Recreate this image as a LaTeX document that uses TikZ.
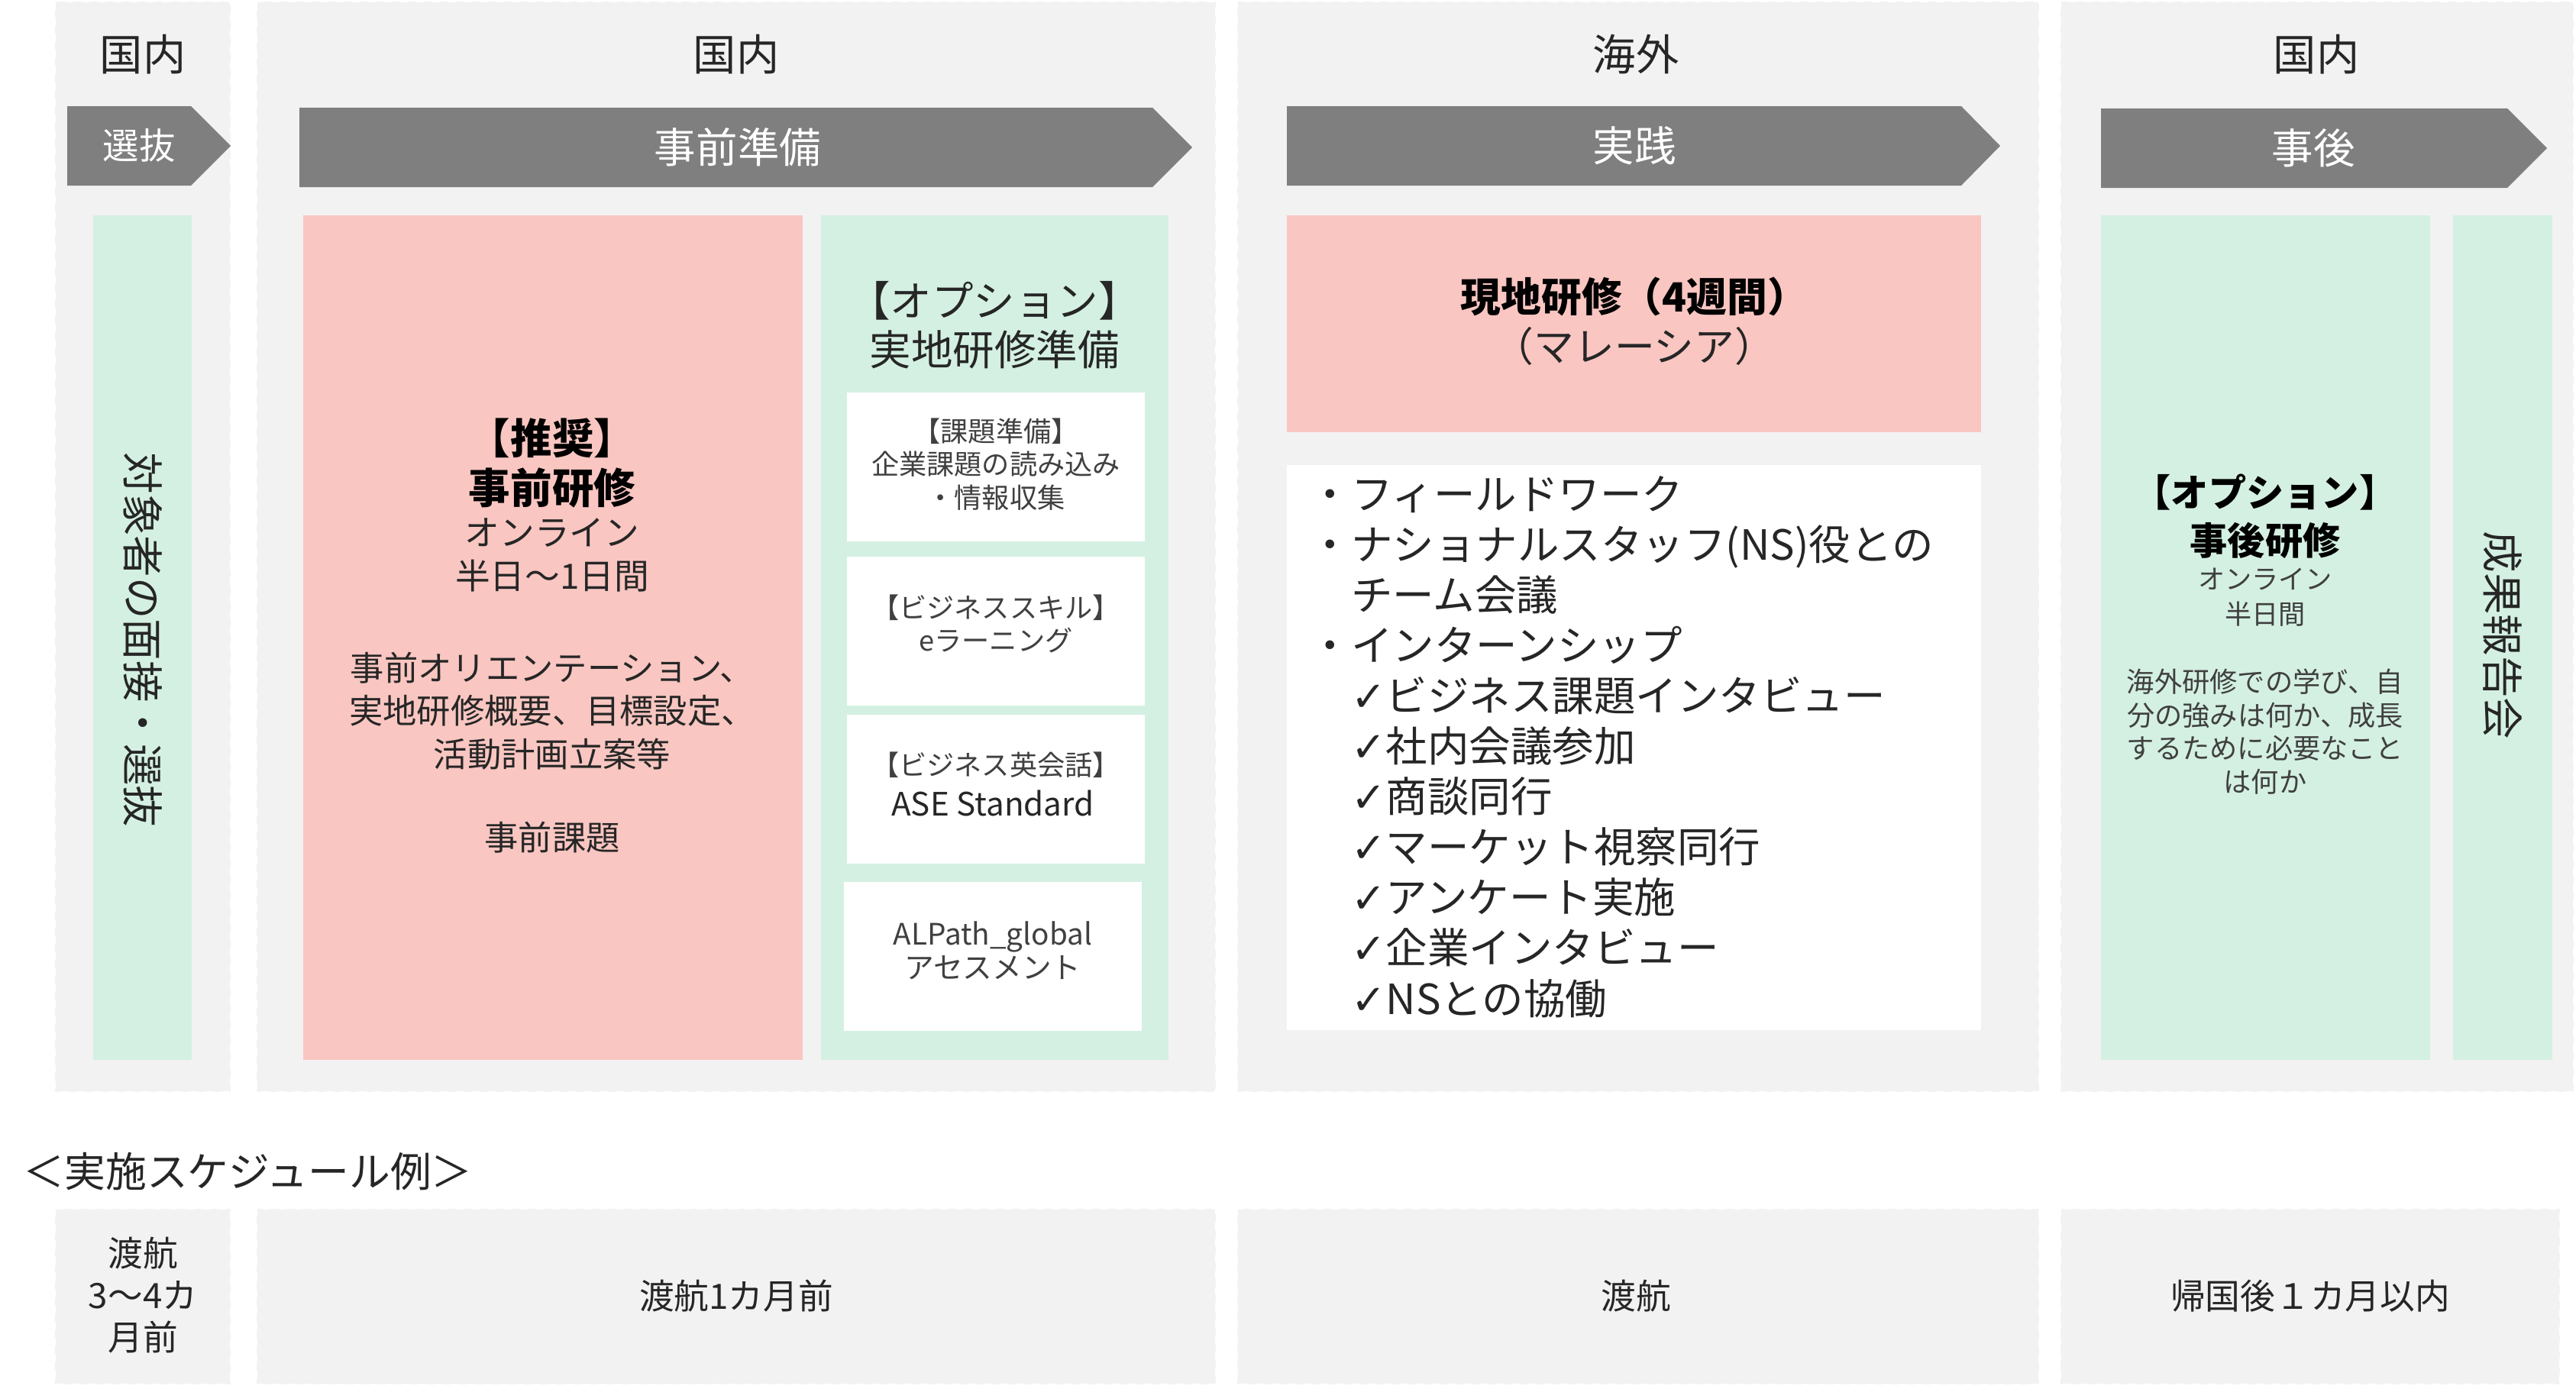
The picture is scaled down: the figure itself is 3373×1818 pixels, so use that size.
\documentclass[tikz,border=0pt]{standalone}
\usepackage{fontspec}
\setmainfont{Noto Sans CJK JP}
\newfontfamily\checkfont{DejaVu Sans}
\definecolor{bgG}{HTML}{F2F2F2}
\definecolor{arrG}{HTML}{7F7F7F}
\definecolor{pinkB}{HTML}{F9C6C1}
\definecolor{greenB}{HTML}{D4F0E2}
\definecolor{txtD}{HTML}{262626}
\definecolor{txtS}{HTML}{404040}
\newcommand\fsz[2]{\fontsize{#1}{#2}\selectfont}
\newcommand\ck{{\checkfont ✓}}
\begin{document}
\begin{tikzpicture}[x=0.01cm,y=-0.01cm,
  every node/.style={inner sep=0pt, text=txtD},
  colbg/.style={fill=bgG, draw=white, line width=0.8pt, dash pattern=on 3pt off 3pt},
  arrowfill/.style={fill=arrG},
  pinkbox/.style={fill=pinkB},
  greenbox/.style={fill=greenB},
  whitebox/.style={fill=white},
  hdr/.style={font=\fsz{16}{19}},
  arrlbl/.style={font=\fsz{15.5}{18}, text=white},
  vtext/.style={rotate=-90, font=\fsz{15.5}{18}},
  smalltxt/.style={align=center, font=\fsz{10.3}{12.4}, text=txtS},
  btxt/.style={align=center, font=\fsz{13}{15.6}}]
\useasboundingbox (0,0) rectangle (3373,1818);

% ---------- column backgrounds ----------
\path[colbg] (72,2) rectangle (302,1430);
\path[colbg] (336,2) rectangle (1592,1430);
\path[colbg] (1620,2) rectangle (2670,1430);
\path[colbg] (2698,2) rectangle (3370,1430);

% ---------- headers ----------
\node[hdr] (h1) at (187,71) {国内};
\node[hdr] (h2) at (964,71) {国内};
\node[hdr] (h3) at (2142,71) {海外};
\node[hdr] (h4) at (3033,71) {国内};

% ---------- phase arrows ----------
\fill[arrowfill] (88,139) -- (250,139) -- (302,191) -- (250,243) -- (88,243) -- cycle;
\fill[arrowfill] (392,141) -- (1509,141) -- (1561,193) -- (1509,245) -- (392,245) -- cycle;
\fill[arrowfill] (1685,139) -- (2568,139) -- (2619,191) -- (2568,243) -- (1685,243) -- cycle;
\fill[arrowfill] (2751,142) -- (3283,142) -- (3335,194) -- (3283,246) -- (2751,246) -- cycle;
\node[arrlbl, font=\fsz{13.5}{16}] (a1) at (182,191) {選抜};
\node[arrlbl] (a2) at (966,193) {事前準備};
\node[arrlbl] (a3) at (2140,191) {実践};
\node[arrlbl] (a4) at (3029,194) {事後};

% ---------- column 1 ----------
\fill[greenbox] (122,282) rectangle (251,1388);
\node[vtext] (s1) at (187,838) {対象者の面接・選抜};

% ---------- column 2 ----------
\fill[pinkbox] (397,282) rectangle (1051,1388);
\node[align=center, font=\fsz{15.5}{18.5}\bfseries, text=black] (p1) at (723,606) {【推奨】\\事前研修};
\node[align=center, font=\fsz{13}{16}] (p2) at (723,727) {オンライン\\半日～1日間};
\node[align=center, font=\fsz{12.6}{16}] (p3) at (723,931) {事前オリエンテーション、\\実地研修概要、目標設定、\\活動計画立案等};
\node[font=\fsz{12.6}{16}] (p4) at (723,1097) {事前課題};

\fill[greenbox] (1075,282) rectangle (1530,1388);
\node[align=center, font=\fsz{15.5}{18.2}] (g1) at (1302,426) {【オプション】\\実地研修準備};
\fill[whitebox] (1109,514) rectangle (1499,709);
\node[smalltxt] (w1) at (1304,608) {【課題準備】\\企業課題の読み込み\\・情報収集};
\fill[whitebox] (1109,729) rectangle (1499,924);
\node[smalltxt] (w2) at (1304,817) {【ビジネススキル】\\eラーニング};
\fill[whitebox] (1109,936) rectangle (1499,1131);
\node[smalltxt] (w3a) at (1304,1002) {【ビジネス英会話】};
\node[font=\fsz{12}{14}] (w3b) at (1300,1052) {ASE Standard};
\fill[whitebox] (1105,1155) rectangle (1495,1350);
\node[smalltxt, font=\fsz{11}{12.4}] (w4) at (1300,1245) {ALPath\_global\\アセスメント};

% ---------- column 3 ----------
\fill[pinkbox] (1685,282) rectangle (2594,566);
\node[align=center, font=\fsz{15}{18.5}] (k1) at (2140,421) {{\bfseries\color{black}現地研修（4週間）}\\（マレーシア）};
\fill[whitebox] (1685,609) rectangle (2594,1349);
\foreach \t [count=\i] in {・フィールドワーク, ・ナショナルスタッフ(NS)役との, 　チーム会議, ・インターンシップ,
  　\ck ビジネス課題インタビュー, 　\ck 社内会議参加, 　\ck 商談同行, 　\ck マーケット視察同行,
  　\ck アンケート実施, 　\ck 企業インタビュー, 　\ck NSとの協働}
  \node[anchor=base west, font=\fsz{15.5}{18}] (li\i) at (1714,{667+66.1*(\i-1)}) {\t};

% ---------- column 4 ----------
\fill[greenbox] (2751,282) rectangle (3182,1388);
\node[align=center, font=\fsz{14}{18}\bfseries, text=black] (q1) at (2966,676) {【オプション】\\事後研修};
\node[smalltxt, font=\fsz{10}{13}] (q2) at (2966,782) {オンライン\\半日間};
\node[smalltxt] (q3) at (2966,958) {海外研修での学び、自\\分の強みは何か、成長\\するために必要なこと\\は何か};
\fill[greenbox] (3212,282) rectangle (3342,1388);
\node[vtext] (s2) at (3277,832) {成果報告会};

% ---------- schedule ----------
\node[anchor=west, font=\fsz{15.3}{18}] (sch) at (30,1534) {＜実施スケジュール例＞};
\path[colbg] (72,1583) rectangle (302,1813);
\path[colbg] (336,1583) rectangle (1592,1813);
\path[colbg] (1620,1583) rectangle (2670,1813);
\path[colbg] (2698,1583) rectangle (3352,1813);
\node[btxt] (b1) at (187,1696) {渡航\\3～4カ\\月前};
\node[btxt] (b2) at (964,1697) {渡航1カ月前};
\node[btxt] (b3) at (2142,1697) {渡航};
\node[btxt] (b4) at (3025,1697) {帰国後１カ月以内};
\end{tikzpicture}
\end{document}
